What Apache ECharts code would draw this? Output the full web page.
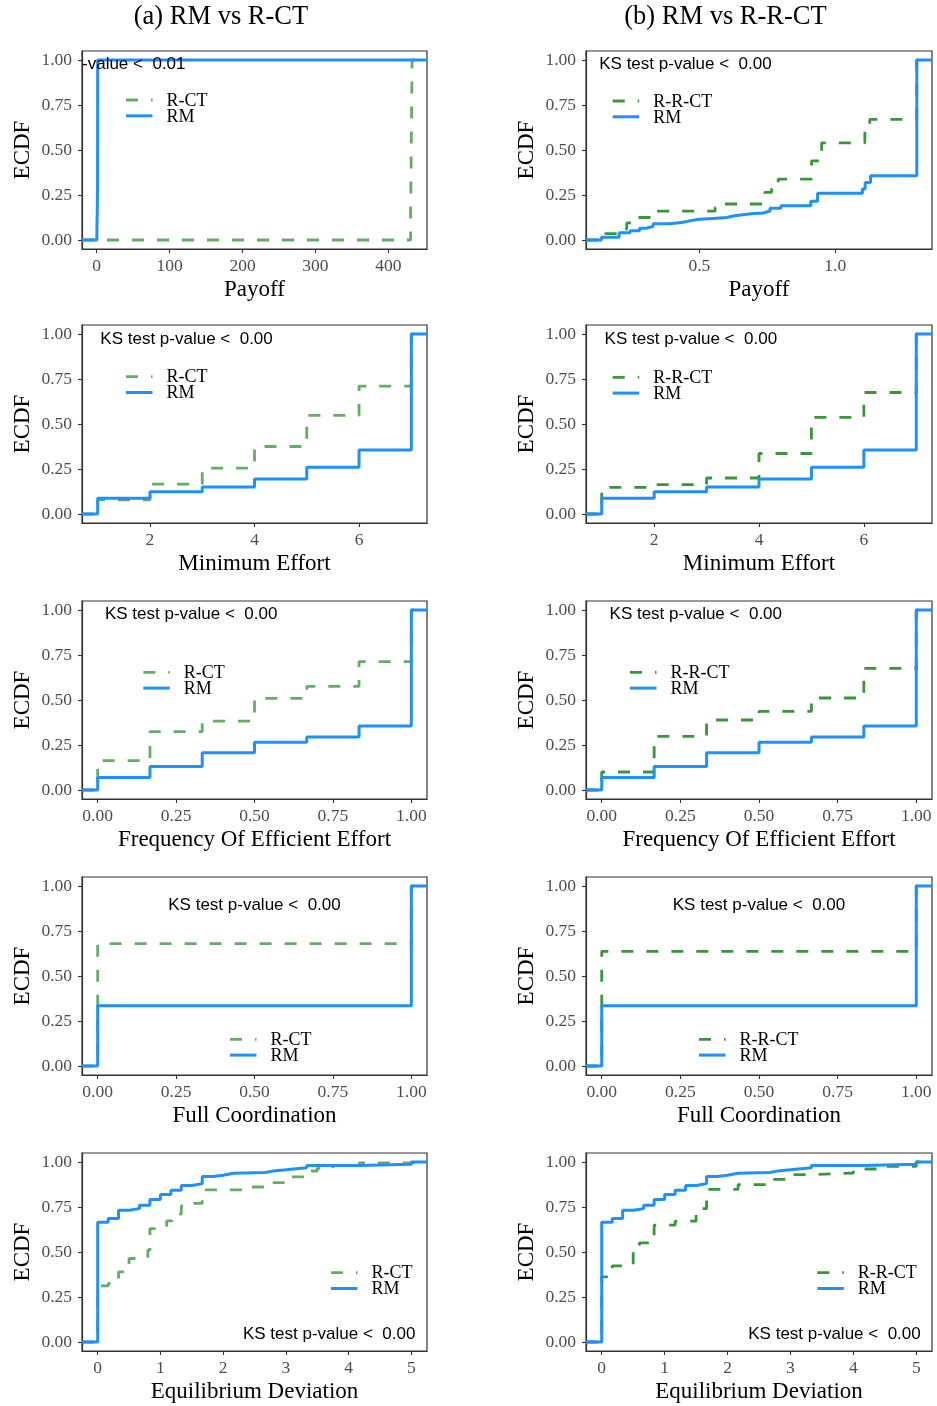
<!DOCTYPE html>
<html>
<head>
<meta charset="utf-8">
<script src="https://cdn.jsdelivr.net/npm/echarts@6/dist/echarts.min.js"></script>
<style>
  html, body { margin: 0; padding: 0; background: #fff; }
  #chart { width: 937px; height: 1406px; }
</style>
</head>
<body>
<div id="chart"></div>
<script>
// ---- ECDF support points: [value, cumulative share] ----
// Payoff
const payoffRM = [[0.14, 0.015], [0.205, 0.04], [0.245, 0.052], [0.28, 0.065], [0.305, 0.076],
  [0.33, 0.09], [0.39, 0.097], [0.435, 0.105], [0.46, 0.115], [0.5, 0.12], [0.55, 0.125],
  [0.6, 0.135], [0.63, 0.146], [0.69, 0.15], [0.735, 0.161], [0.76, 0.176], [0.8, 0.19],
  [0.91, 0.215], [0.935, 0.26], [1.1, 0.283], [1.11, 0.32], [1.13, 0.357], [1.3, 1]];
const payoffRCT = [[430.5, 0.15], [431.5, 0.55], [432.5, 1]];
const payoffRRCT = [[0.153, 0.035], [0.208, 0.06], [0.233, 0.095], [0.27, 0.125], [0.325, 0.16],
  [0.558, 0.18], [0.582, 0.2], [0.741, 0.265], [0.766, 0.285], [0.79, 0.338], [0.913, 0.44],
  [0.95, 0.54], [1.109, 0.62], [1.127, 0.67], [1.3, 1]];

// Minimum effort
const effortLevels = [1, 2, 3, 4, 5, 6, 7];
const effortRM = [0.087, 0.124, 0.15, 0.194, 0.26, 0.355, 1];
const effortRCT = [0.078, 0.166, 0.255, 0.375, 0.548, 0.71, 1];
const effortRRCT = [0.148, 0.163, 0.2, 0.336, 0.537, 0.675, 1];

// Frequency of efficient effort
const freqLevels = [0, 0.1667, 0.3333, 0.5, 0.6667, 0.8333, 1];
const freqRM = [0.07, 0.13, 0.207, 0.265, 0.294, 0.356, 1];
const freqRCT = [0.163, 0.324, 0.383, 0.509, 0.576, 0.713, 1];
const freqRRCT = [0.1, 0.298, 0.389, 0.437, 0.511, 0.676, 1];

// Full coordination
const coordLevels = [0, 1];
const coordRM = [0.335, 1];
const coordRCT = [0.68, 1];
const coordRRCT = [0.637, 1];

// Equilibrium deviation
const devRM = [[0, 0.665], [0.167, 0.686], [0.333, 0.732], [0.5, 0.741], [0.667, 0.76],
  [0.833, 0.791], [1.0, 0.819], [1.167, 0.843], [1.333, 0.869], [1.5, 0.88], [1.667, 0.92],
  [1.833, 0.926], [2.0, 0.937], [2.167, 0.942], [2.667, 0.952], [2.833, 0.957], [3.0, 0.968],
  [3.333, 0.98], [4.167, 0.987], [5.0, 1]];
const devRCT = [[0, 0.312], [0.167, 0.325], [0.333, 0.39], [0.5, 0.464], [0.8, 0.51],
  [0.833, 0.63], [1.1, 0.673], [1.19, 0.71], [1.333, 0.756], [1.5, 0.77], [1.667, 0.845],
  [2.333, 0.861], [2.667, 0.885], [3.0, 0.917], [3.333, 0.95], [3.5, 0.965], [3.75, 0.98],
  [4.167, 0.995], [5.0, 1]];
const devRRCT = [[0, 0.362], [0.167, 0.423], [0.5, 0.5], [0.6, 0.551], [0.833, 0.649],
  [1.167, 0.671], [1.5, 0.741], [1.667, 0.848], [2.167, 0.874], [2.667, 0.904], [3.0, 0.93],
  [3.333, 0.939], [4.0, 0.961], [4.5, 0.976], [5.0, 1]];

// ---- tick labels ----
const ecdfTicks = [0, 0.25, 0.5, 0.75, 1];
const payoffTicksA = [0, 100, 200, 300, 400];
const payoffTicksB = [0.5, 1.0];
const effortTicks = [2, 4, 6];
const shareTicks = [0, 0.25, 0.5, 0.75, 1];
const deviationTicks = [0, 1, 2, 3, 4, 5];

// ---- text ----
const columnTitles = ['(a) RM vs R-CT', '(b) RM vs R-R-CT'];
const treatmentNames = ['R-CT', 'R-R-CT'];
const baselineName = 'RM';
const measureNames = ['Payoff', 'Minimum Effort', 'Frequency Of Efficient Effort', 'Full Coordination', 'Equilibrium Deviation'];
const ksPValues = [['0.01', '0.00'], ['0.00', '0.00'], ['0.00', '0.00'], ['0.00', '0.00'], ['0.00', '0.00']];

// ---- styling / layout ----
const SERIF = 'Liberation Serif';
const SANS = 'Liberation Sans';
const BLUE = '#1e90ff';
const GREENS = ['#64ae64', '#389738'];
const FRAME = '#333333';
const colLeft = [82, 586];
const colWidth = [345, 346];
const rowTop = [51, 325, 601, 877, 1153];
const panelHeight = 198;

const zip = (xs, ys) => xs.map((x, i) => [x, ys[i]]);
// step path of an ECDF, padded to the panel edges like stat_ecdf
const ecdfPath = (pts, lo, hi) => [[lo, 0]].concat(pts, [[hi, 1]]);

const fmt0 = v => String(Math.round(v));
const fmt1 = v => v.toFixed(1);
const fmt2 = v => v.toFixed(2);

const rows = [
  { ranges: [[-20.2, 453], [0.083, 1.356]], ticks: [payoffTicksA, payoffTicksB], fmt: [fmt0, fmt1],
    rm: [payoffRM, payoffRM], alt: [payoffRCT, payoffRRCT],
    ks: [[3.5, 0.978], [0.449, 0.974]],
    legend: [[126, 100], [612.7, 101]] },
  { ranges: [[0.7, 7.3], [0.7, 7.3]], ticks: [effortTicks, effortTicks], fmt: [fmt0, fmt0],
    rm: [zip(effortLevels, effortRM), zip(effortLevels, effortRM)],
    alt: [zip(effortLevels, effortRCT), zip(effortLevels, effortRRCT)],
    ks: [[2.70, 0.972], [2.70, 0.972]],
    legend: [[126, 376.7], [612.7, 377.3]] },
  { ranges: [[-0.05, 1.05], [-0.05, 1.05]], ticks: [shareTicks, shareTicks], fmt: [fmt2, fmt2],
    rm: [zip(freqLevels, freqRM), zip(freqLevels, freqRM)],
    alt: [zip(freqLevels, freqRCT), zip(freqLevels, freqRRCT)],
    ks: [[0.298, 0.976], [0.299, 0.976]],
    legend: [[143.3, 672.3], [630, 672.3]] },
  { ranges: [[-0.05, 1.05], [-0.05, 1.05]], ticks: [shareTicks, shareTicks], fmt: [fmt2, fmt2],
    rm: [zip(coordLevels, coordRM), zip(coordLevels, coordRM)],
    alt: [zip(coordLevels, coordRCT), zip(coordLevels, coordRRCT)],
    ks: [[0.5, 0.894], [0.5, 0.894]],
    legend: [[230, 1039.3], [699, 1039.3]] },
  { ranges: [[-0.25, 5.25], [-0.25, 5.25]], ticks: [deviationTicks, deviationTicks], fmt: [fmt0, fmt0],
    rm: [devRM, devRM], alt: [devRCT, devRRCT],
    ks: [[3.69, 0.043], [3.70, 0.043]],
    legend: [[331, 1272.7], [817.3, 1272.7]] }
];

const option = {
  animation: false,
  backgroundColor: '#ffffff',
  grid: [], xAxis: [], yAxis: [], series: [], graphic: []
};

rows.forEach((row, r) => {
  [0, 1].forEach(c => {
    const idx = r * 2 + c;
    const [lo, hi] = row.ranges[c];
    option.grid.push({
      left: colLeft[c], top: rowTop[r], width: colWidth[c], height: panelHeight,
      show: true, borderColor: FRAME, borderWidth: 1.2, backgroundColor: '#ffffff'
    });
    option.xAxis.push({
      gridIndex: idx, type: 'value', min: lo, max: hi,
      name: measureNames[r], nameLocation: 'middle', nameGap: 29,
      nameTextStyle: { fontFamily: SERIF, fontSize: 23, color: '#000' },
      axisLine: { show: true, onZero: false, lineStyle: { color: FRAME, width: 1.2 } },
      axisTick: { show: true, length: 4, customValues: row.ticks[c], lineStyle: { color: FRAME, width: 1.1 } },
      axisLabel: { customValues: row.ticks[c], formatter: row.fmt[c], fontFamily: SERIF, fontSize: 17.5, color: '#4d4d4d', margin: 8 },
      splitLine: { show: false }
    });
    option.yAxis.push({
      gridIndex: idx, type: 'value', min: -0.05, max: 1.05,
      name: 'ECDF', nameLocation: 'middle', nameGap: 48,
      nameTextStyle: { fontFamily: SERIF, fontSize: 23, color: '#000' },
      axisLine: { show: true, onZero: false, lineStyle: { color: FRAME, width: 1.2 } },
      axisTick: { show: true, length: 4, customValues: ecdfTicks, lineStyle: { color: FRAME, width: 1.1 } },
      axisLabel: { customValues: ecdfTicks, formatter: fmt2, fontFamily: SERIF, fontSize: 17.5, color: '#4d4d4d', margin: 10 },
      splitLine: { show: false }
    });
    // comparison treatment (dashed) under the baseline (solid)
    option.series.push({
      name: treatmentNames[c], type: 'line', xAxisIndex: idx, yAxisIndex: idx,
      data: ecdfPath(row.alt[c], lo, hi), step: 'end', showSymbol: false, symbol: 'none',
      silent: true, z: 2,
      lineStyle: { color: GREENS[c], width: 2.8, type: [12, 13] }
    });
    option.series.push({
      name: baselineName, type: 'line', xAxisIndex: idx, yAxisIndex: idx,
      data: ecdfPath(row.rm[c], lo, hi), step: 'end', showSymbol: false, symbol: 'none',
      silent: true, z: 3,
      lineStyle: { color: BLUE, width: 3, type: 'solid' }
    });
    // KS test annotation, clipped to the panel
    const ksText = 'KS test p-value <  ' + ksPValues[r][c];
    option.series.push({
      type: 'custom', xAxisIndex: idx, yAxisIndex: idx, clip: true, silent: true, z: 4,
      data: [row.ks[c]],
      renderItem: (params, api) => {
        const p = api.coord([api.value(0), api.value(1)]);
        return {
          type: 'text', x: p[0], y: p[1],
          style: { text: ksText, fontFamily: SANS, fontSize: 17, fill: '#000', align: 'center', verticalAlign: 'middle' }
        };
      }
    });
    // in-panel legend
    const [kx, ky] = row.legend[c];
    const keyLen = 26.5, rowGap = 15.8, textGap = 14;
    option.graphic.push(
      { type: 'line', silent: true, z: 10, shape: { x1: kx, y1: ky, x2: kx + keyLen, y2: ky },
        style: { stroke: GREENS[c], lineWidth: 2.8, lineDash: [12, 13] } },
      { type: 'line', silent: true, z: 10, shape: { x1: kx, y1: ky + rowGap, x2: kx + keyLen, y2: ky + rowGap },
        style: { stroke: BLUE, lineWidth: 3 } },
      { type: 'text', silent: true, z: 10, x: kx + keyLen + textGap, y: ky + 1,
        style: { text: treatmentNames[c], fontFamily: SERIF, fontSize: 18, fill: '#000', verticalAlign: 'middle' } },
      { type: 'text', silent: true, z: 10, x: kx + keyLen + textGap, y: ky + rowGap + 1,
        style: { text: baselineName, fontFamily: SERIF, fontSize: 18, fill: '#000', verticalAlign: 'middle' } }
    );
  });
});

// column captions
option.graphic.push(
  { type: 'text', silent: true, x: 221, y: 17,
    style: { text: columnTitles[0], fontFamily: SERIF, fontSize: 26.5, fill: '#000', align: 'center', verticalAlign: 'middle' } },
  { type: 'text', silent: true, x: 725.5, y: 17,
    style: { text: columnTitles[1], fontFamily: SERIF, fontSize: 26.5, fill: '#000', align: 'center', verticalAlign: 'middle' } }
);

const chart = echarts.init(document.getElementById('chart'), null, { renderer: 'canvas' });
chart.setOption(option);
</script>
</body>
</html>
